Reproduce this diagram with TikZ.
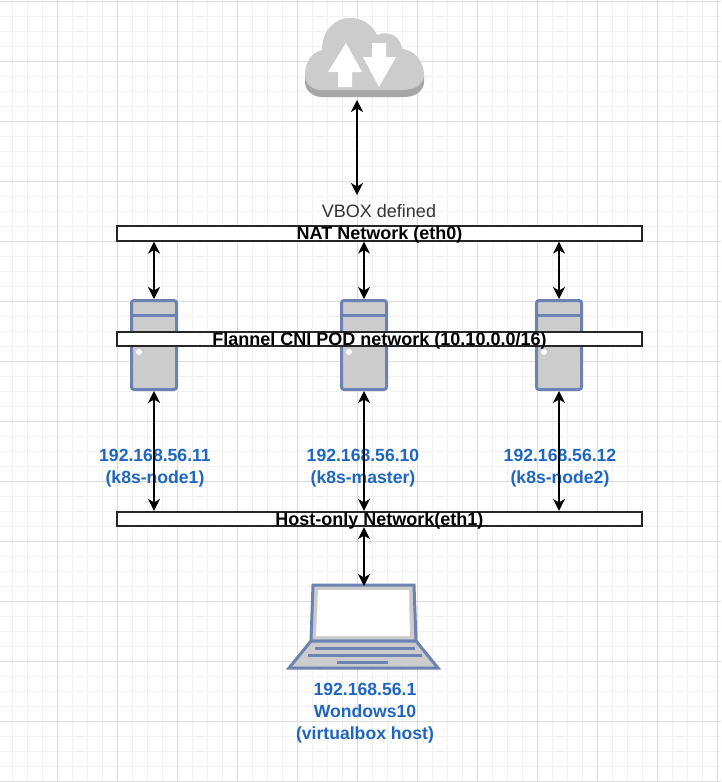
\documentclass[tikz,border=0pt]{standalone}
\usepackage{fontspec}
\setmainfont{Liberation Sans}
\usepackage{xcolor}
\usetikzlibrary{arrows.meta}
\definecolor{gridmajor}{HTML}{DDDDDD}
\definecolor{gridminor}{HTML}{F2F2F2}
\definecolor{devblue}{HTML}{6C82B2}
\definecolor{devgray}{HTML}{CCCCCC}
\definecolor{clouddark}{HTML}{A6A6A6}
\definecolor{ipblue}{HTML}{1F66BE}

\begin{document}
\begin{tikzpicture}[
        x=1pt, y=-1pt,
        netbar/.style = {draw=black!85, line width=1.7pt, fill=white, minimum width=525pt, minimum height=14.5pt, inner sep=0pt, text height=13pt, text depth=1pt, font=\fontsize{18}{20}\selectfont\bfseries},
        server/.style = {draw=devblue, line width=3pt, rounded corners=2.5pt, fill=devgray, minimum width=45pt, minimum height=89pt, inner sep=0pt},
        iplabel/.style = {text=ipblue, align=center, inner sep=0pt, font=\fontsize{17.6}{21.7}\selectfont\bfseries},
        arrow/.style = {{Stealth[length=12pt, width=12pt, inset=3.5pt]}-{Stealth[length=12pt, width=12pt, inset=3.5pt]}, line width=1.6pt},
    ]
        \useasboundingbox (0,0) rectangle (721,782);
        \fill[white] (0,0) rectangle (721,782);

        % grid
        \foreach \i in {0,...,47} {\draw[gridminor, line width=1pt] ({12.5+15*\i},0) -- ({12.5+15*\i},782);}
        \foreach \i in {0,...,51} {\draw[gridminor, line width=1pt] (0,{1.5+15*\i}) -- (721,{1.5+15*\i});}
        \foreach \i in {0,...,11} {\draw[gridmajor, line width=1pt] ({57.5+60*\i},0) -- ({57.5+60*\i},782);}
        \foreach \i in {0,...,13} {\draw[gridmajor, line width=1pt] (0,{1.5+60*\i}) -- (721,{1.5+60*\i});}

        % cloud
        \fill[clouddark] (305,75) -- (305,82) .. controls (305,90) and (312,97) .. (322,97) -- (405,97) .. controls (416,97) and (424,90) .. (424,82) -- (424,75) -- cycle;
        \fill[devgray] (305,75) .. controls (305,62) and (312,52) .. (322,50)
            .. controls (322,30) and (335,18) .. (350,18)
            .. controls (362,18) and (372,24) .. (377,35)
            .. controls (388,30) and (401,36) .. (402,49)
            .. controls (415,50) and (424,62) .. (424,75)
            .. controls (424,84) and (415,90) .. (403,90)
            -- (322,90) .. controls (312,90) and (305,84) .. (305,75) -- cycle;
        \fill[white] (346,43) -- (362,72) -- (352,72) -- (352,87) -- (338,87) -- (338,72) -- (328,72) -- cycle;
        \fill[white] (379,87) -- (363,57) -- (372,57) -- (372,43) -- (386,43) -- (386,57) -- (396,57) -- cycle;

        % laptop
        \filldraw[draw=devblue, fill=devgray, line width=3pt, line join=miter] (313,585) -- (414,585) -- (416,641) -- (311,641) -- cycle;
        \fill[white] (318,590) -- (409,590) -- (410,636) -- (316,636) -- cycle;
        \filldraw[draw=devblue, fill=devgray, line width=3pt] (311,641) -- (416,641) -- (438,668) -- (289,668) -- cycle;
        \draw[devblue, line width=3pt] (315,648) -- (415,648);
        \draw[devblue, line width=3pt] (308,655) -- (422,655);
        \draw[devblue, line width=3pt] (337,662) -- (388,662);

        \node[server] (srv1) at (154,345) {};
        \node[server] (srvm) at (364,345) {};
        \node[server] (srv2) at (559,345) {};
        \foreach \n in {srv1,srvm,srv2} {
            \draw[devblue, line width=3pt] (\n.west |- 0,315) -- (\n.east |- 0,315);
            \fill[white] (\n.center) ++(-15,7) circle (3pt);
        }

        \node[netbar] (nat) at (379.5,233.5) {NAT Network (eth0)};
        \node[netbar] (flannel) at (379.5,339) {Flannel CNI POD network (10.10.0.0/16)};
        \node[netbar] (host) at (379.5,519) {Host-only Network(eth1)};

        \node[font=\fontsize{18}{20}\selectfont, text=black!80, inner sep=0pt] (vbox) at (379,211) {VBOX defined};

        \node[iplabel] (ip1) at (155,468) {192.168.56.11\\(k8s-node1)};
        \node[iplabel] (ipm) at (363,468) {192.168.56.10\\(k8s-master)};
        \node[iplabel] (ip2) at (560,468) {192.168.56.12\\(k8s-node2)};
        \node[iplabel] (ipwin) at (365,713) {192.168.56.1\\Wondows10\\(virtualbox host)};

        \coordinate (cloudport) at (357,100);
        \coordinate (vboxport) at (357,195);
        \coordinate (laptopport) at (364,586);

        \draw[arrow] (cloudport) -- (vboxport);
        \draw[arrow] (nat.south -| srv1) -- (srv1.north);
        \draw[arrow] (nat.south -| srvm) -- (srvm.north);
        \draw[arrow] (nat.south -| srv2) -- (srv2.north);
        \draw[arrow] (srv1.south) -- (host.north -| srv1);
        \draw[arrow] (srvm.south) -- (host.north -| srvm);
        \draw[arrow] (srv2.south) -- (host.north -| srv2);
        \draw[arrow] (host.south -| laptopport) -- (laptopport);
    \end{tikzpicture}
\end{document}
